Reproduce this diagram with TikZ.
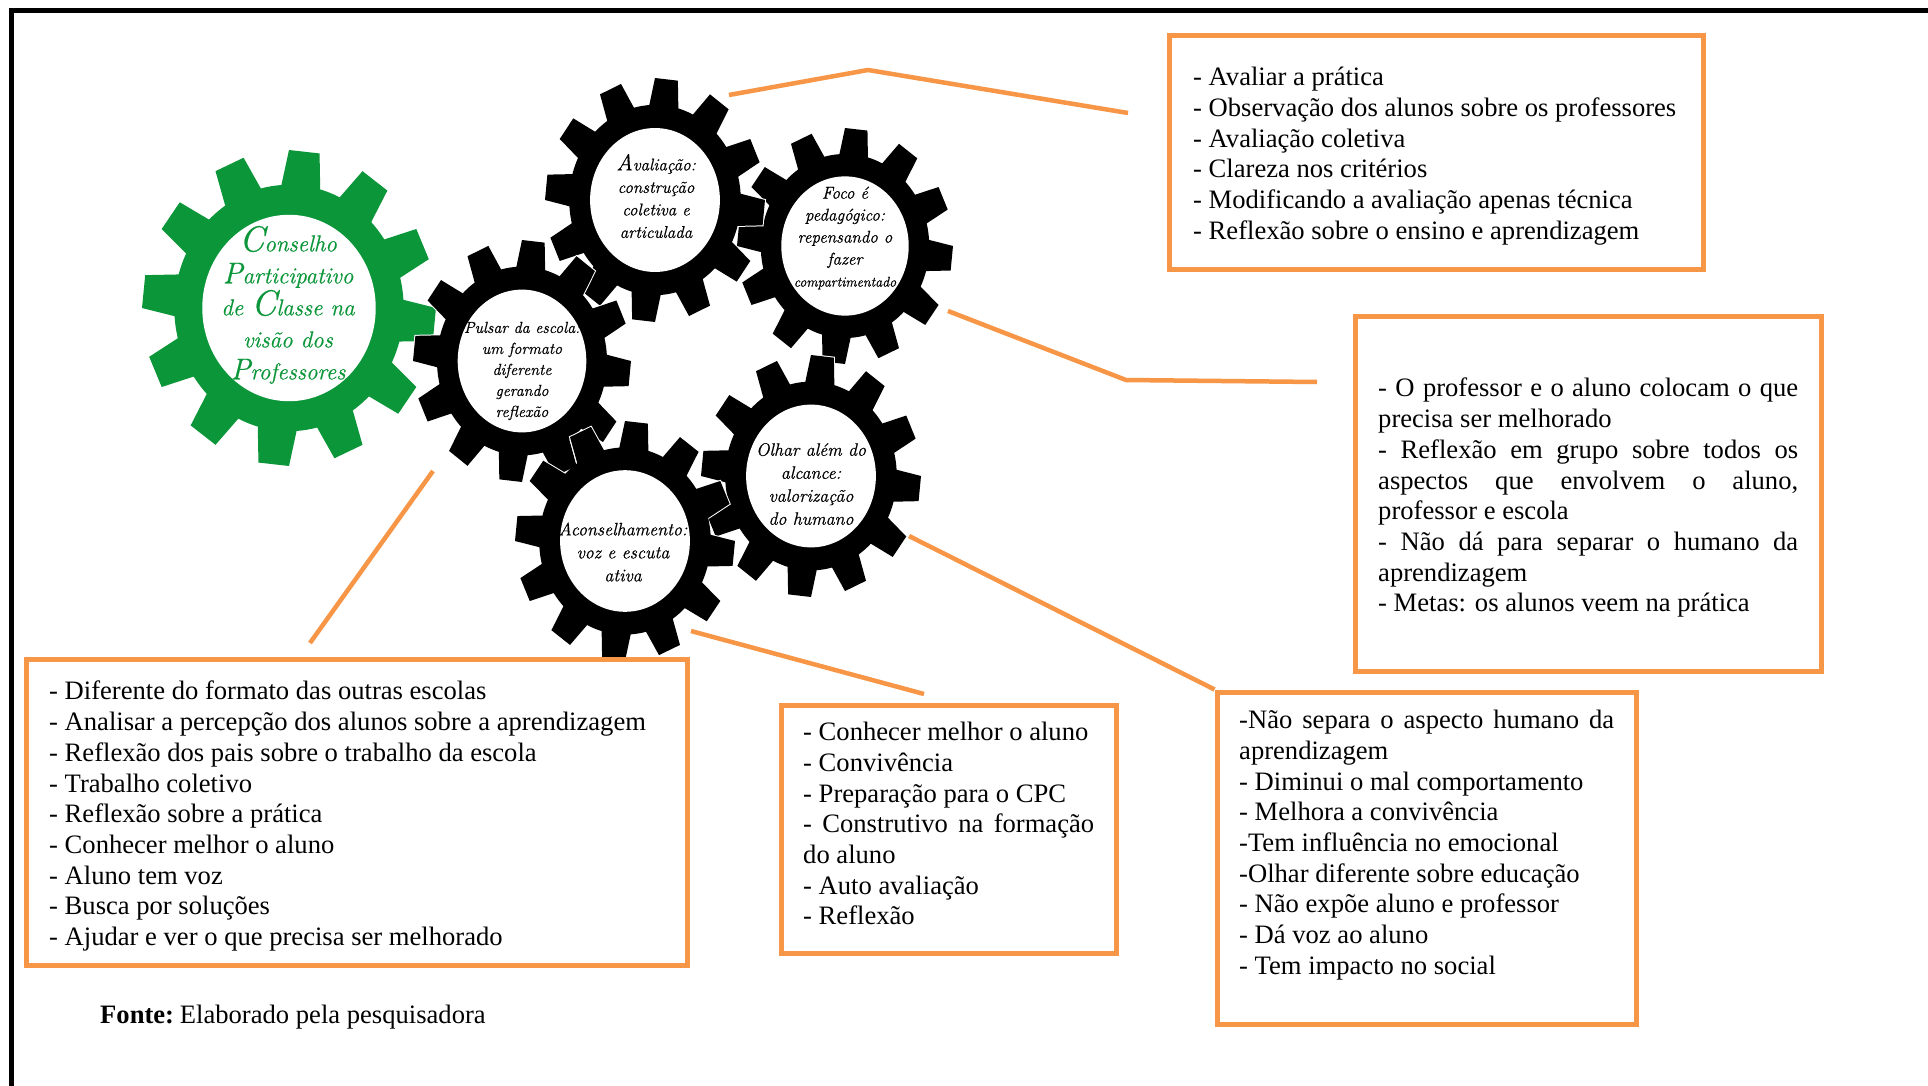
\documentclass[tikz,border=0pt]{standalone}
\usepackage{fontspec}
\setmainfont{Liberation Serif}
\definecolor{gearorange}{HTML}{F79646}
\definecolor{geargreen}{HTML}{0B9639}
\newfontfamily\scrbase[ItalicFeatures={FakeBold=0.6}]{Latin Modern Roman}
\newcommand{\scr}{\scrbase\itshape}
\tikzset{
  x=1pt,y=-1pt,
  orangebox/.style={draw=gearorange,line width=5pt,fill=none,inner sep=0pt,rectangle,line join=miter},
  link/.style={draw=gearorange,line width=4.5pt,line join=round},
  listtext/.style={anchor=north west,inner sep=0pt,align=left,font=\fontsize{26.6}{30.7}\selectfont},
  geartext/.style={inner sep=0pt,align=center,text=black},
}
% cx cy rx ry colour rotation
\newcommand{\gearbody}[6]{%
  \begin{scope}[shift={(#1,#2)},x=#3pt,y=#4pt]
    \foreach \i in {0,...,11}{
      \pgfmathsetmacro\a{(#6)+30*\i}
      \draw[white,line width=2pt] ({\a-10.5}:.75) -- ({\a-6}:1) -- ({\a+6}:1) -- ({\a+10.5}:.75);
    }
    \foreach \i in {0,...,11}{
      \pgfmathsetmacro\a{(#6)+30*\i}
      \fill[#5] ({\a-10.5}:.75) -- ({\a-6}:1) -- ({\a+6}:1) -- ({\a+10.5}:.75) -- cycle;
    }
    \fill[#5] (0,0) circle[radius=.78];
    \fill[white] (0,0) circle[radius=.59];
  \end{scope}}
\begin{document}
\begin{tikzpicture}
\useasboundingbox (0,0) rectangle (1928,1086);
\fill[white] (0,0) rectangle (1928,1086);
% frame
\coordinate (fa) at (11.5,1086);
\coordinate (fb) at (11.5,10.5);
\coordinate (fc) at (1928,10.5);
\draw[black,line width=5pt,line join=miter] (fa) -- (fb) -- (fc);
% gears
\gearbody{289}{308}{147}{158}{geargreen}{24}
\gearbody{845}{246}{108}{118}{black}{24}
\gearbody{655}{200}{110}{122}{black}{24}
\gearbody{522}{361}{109}{121}{black}{24}
\gearbody{811}{476}{110}{121}{black}{24}
\gearbody{625}{541}{110}{120}{black}{24}
% gear labels
\node[geartext,text=geargreen,font=\fontsize{23}{32}\selectfont\scr] (gmain) at (288,305)
  {{\fontsize{36}{32}\selectfont C}onselho\\{\fontsize{30}{32}\selectfont P}articipativo\\de {\fontsize{36}{32}\selectfont C}lasse na\\visão dos\\{\fontsize{30}{32}\selectfont P}rofessores};
\node[geartext,font=\fontsize{17}{22.5}\selectfont\scr] (gaval) at (656,196)
  {{\fontsize{23}{22.5}\selectfont A}valiação:\\construção\\coletiva e\\articulada};
\node[geartext,font=\fontsize{17}{22}\selectfont\scr] (gfoco) at (845,238)
  {Foco é\\pedagógico:\\repensando o\\fazer\\{\fontsize{14}{22}\selectfont compartimentado}};
\node[geartext,font=\fontsize{16}{21}\selectfont\scr] (gpuls) at (522,371)
  {Pulsar da escola:\\um formato\\diferente\\gerando\\reflexão};
\node[geartext,font=\fontsize{18}{23}\selectfont\scr] (golha) at (811,484)
  {Olhar além do\\alcance:\\valorização\\do humano};
\node[geartext,font=\fontsize{18}{23}\selectfont\scr] (gacon) at (623,552)
  {Aconselhamento:\\voz e escuta\\ativa};
% boxes
\node[orangebox,minimum width=534pt,minimum height=233pt] (box1) at (1436,152.5) {};
\node[orangebox,minimum width=466pt,minimum height=355pt] (box2) at (1588,493.5) {};
\node[orangebox,minimum width=661pt,minimum height=306pt] (box3) at (356.5,812) {};
\node[orangebox,minimum width=335pt,minimum height=248pt] (box4) at (948.5,829) {};
\node[orangebox,minimum width=419pt,minimum height=332pt] (box5) at (1426.5,858) {};
% box texts
\node[listtext] (t1) at (1193,67) {- Avaliar a prática\\- Observação dos alunos sobre os professores\\- Avaliação coletiva\\- Clareza nos critérios\\- Modificando a avaliação apenas técnica\\- Reflexão sobre o ensino e aprendizagem};
\node[listtext] (t2) at (1378,378) {\makebox[420pt][s]{- O professor e o aluno colocam o que}\\precisa ser melhorado\\\makebox[420pt][s]{- Reflexão em grupo sobre todos os}\\\makebox[420pt][s]{aspectos que envolvem o aluno,}\\professor e escola\\\makebox[420pt][s]{- Não dá para separar o humano da}\\aprendizagem\\- Metas: os alunos veem na prática};
\node[listtext] (t3) at (49,681) {- Diferente do formato das outras escolas\\- Analisar a percepção dos alunos sobre a aprendizagem\\- Reflexão dos pais sobre o trabalho da escola\\- Trabalho coletivo\\- Reflexão sobre a prática\\- Conhecer melhor o aluno\\- Aluno tem voz\\- Busca por soluções\\- Ajudar e ver o que precisa ser melhorado};
\node[listtext] (t4) at (803,722) {- Conhecer melhor o aluno\\- Convivência\\- Preparação para o CPC\\\makebox[291pt][s]{- Construtivo na formação}\\do aluno\\- Auto avaliação\\- Reflexão};
\node[listtext] (t5) at (1239,710) {\makebox[375pt][s]{-Não separa o aspecto humano da}\\aprendizagem\\- Diminui o mal comportamento\\- Melhora a convivência\\-Tem influência no emocional\\-Olhar diferente sobre educação\\- Não expõe aluno e professor\\- Dá voz ao aluno\\- Tem impacto no social};
\node[listtext] (fonte) at (100,1005) {\textbf{Fonte:}\kern-3pt{} Elaborado pela pesquisadora};
% connectors
\coordinate (c1a) at (729,95);
\coordinate (c1b) at (868,70);
\coordinate (c1c) at (1128,113);
\draw[link] (c1a) -- (c1b) -- (c1c);
\coordinate (c2a) at (948,311);
\coordinate (c2b) at (1126,380);
\coordinate (c2c) at (1317,382);
\draw[link] (c2a) -- (c2b) -- (c2c);
\coordinate (c3a) at (433,471);
\coordinate (c3b) at (310,643);
\draw[link] (c3a) -- (c3b);
\coordinate (c4a) at (691,631);
\coordinate (c4b) at (924,694);
\draw[link] (c4a) -- (c4b);
\coordinate (c5a) at (909,536);
\draw[link] (c5a) -- (box5.north west);
\end{tikzpicture}
\end{document}
